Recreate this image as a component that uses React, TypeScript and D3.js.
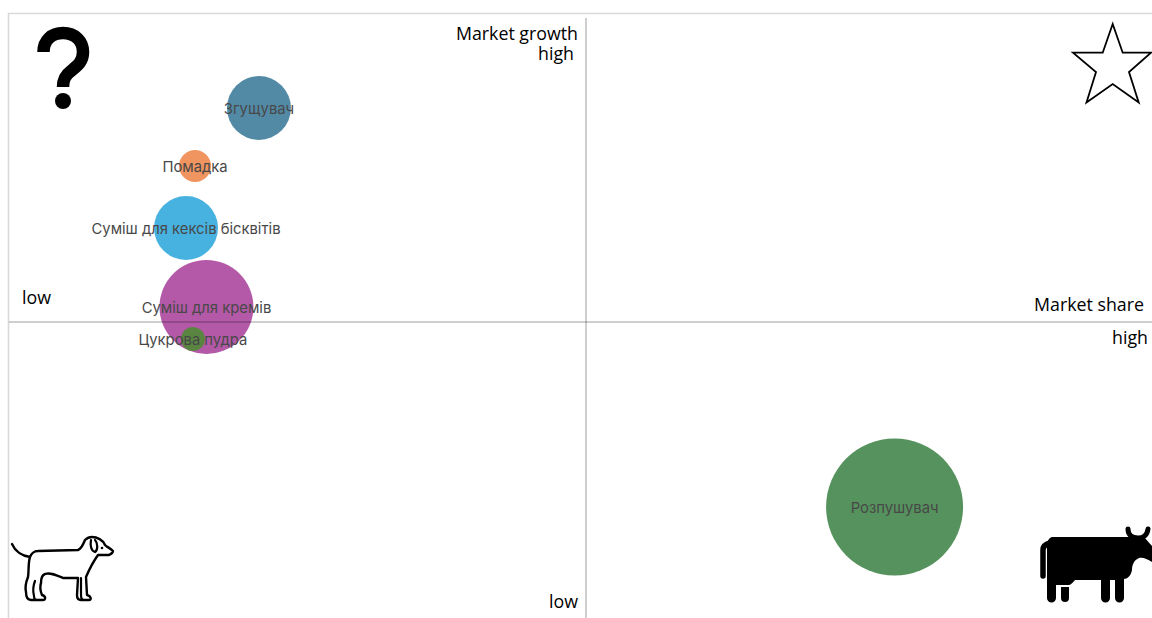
import React from "react";
import * as d3 from "d3";

// BCG matrix: product portfolio by relative market share and market growth.
const products = ["Згущувач", "Помадка", "Суміш для кексів бісквітів", "Суміш для кремів", "Цукрова пудра", "Розпушувач"];
const marketShare = [0.2166, 0.1612, 0.1534, 0.1711, 0.1594, 0.7674];
const marketGrowth = [0.8474, 0.7532, 0.6526, 0.5244, 0.4724, 0.1997];
const salesVolume = [21.8, 5.46, 21.8, 47, 3.07, 100];
const bubbleColors = ["#3f7d9c", "#ee8a4e", "#33aadd", "#ab479d", "#4f8a36", "#44864b"];

const WIDTH = 1152;
const HEIGHT = 618;
const FONT = "Inter, 'Noto Sans', sans-serif";
const CAPTION_FONT = "'Open Sans', 'Noto Sans', sans-serif";

const x = d3.scaleLinear().domain([0, 1]).range([9, 1163]);
const y = d3.scaleLinear().domain([0, 1]).range([630, 14]);
const r = d3.scaleSqrt().domain([0, 100]).range([0, 68.5]);

const captions = [
  { text: "Market growth", px: 578, py: 40, anchor: "end" },
  { text: "high", px: 574, py: 60, anchor: "end" },
  { text: "low", px: 22, py: 304, anchor: "start" },
  { text: "Market share", px: 1144, py: 311, anchor: "end" },
  { text: "high", px: 1148, py: 344, anchor: "end" },
  { text: "low", px: 578, py: 608, anchor: "end" },
];

const starPoints: [number, number][] = [
  [1112.7, 24], [1122.7, 52.7], [1151, 52.7], [1129, 72], [1138.7, 102.5],
  [1112.7, 84], [1086.5, 102.5], [1096, 72], [1073, 52.7], [1102.7, 52.7],
];
const starPath = d3.line().curve(d3.curveLinearClosed)(starPoints) as string;

const dogPath =
  "M12 544 C15 551 22 556 30 557 C28 563 29 571 28 577 C26 582 25 588 26 592 C26 597 27 600 31 600 L43 600 C46 600 46 596 42 595 C40 590 40 586 41 583 C41 578 42 575 45 574 C50 572 56 575 63 578 L78 578 L77 595 C77 598 78 600 81 600 L89 600 C92 600 91 596 87 595 L86 577 C89 570 93 562 98 555 L109 555 C111 554 113 553 113 551 C110 548 107 547 105 545 C103 540 97 537 92 537 C89 537 87 538 85 540 C83 545 81 549 78 550 L38 551 C34 551 31 554 30 557";

const dogInnerPath =
  "M35 581 C33 586 33 592 34 596 C34 599 35 600 37 600 M81 578 L81 595 C81 598 82 600 84 600 M91 540 C90 545 91 551 95 552 C98 550 98 543 95 540";

const cowBodyPath =
  "M1052 537 L1144 537 L1152 546 L1152 562 C1147 559 1143 557 1139 558 C1134 560 1132 565 1132 570 C1131 576 1127 579 1124 579 L1124 598 A4.5 4.5 0 0 1 1115 598 L1115 580 L1110 580 L1110 598 A4.5 4.5 0 0 1 1101 598 L1101 580 L1075 580 C1073 582 1071 585 1069 585 L1056 585 L1056 598 A4.5 4.5 0 0 1 1047 598 L1047 545 C1047 541 1049 538 1052 537 Z M1061 587 L1069 587 L1069 598 A4 4 0 0 1 1061 598 Z";

const cowTailPath = "M1050 543 C1046 544 1043 546 1043 550 L1043 576";
const cowHornsPath = "M1128 529 C1128 536 1133 538 1138 538 C1143 538 1147 536 1148 529";

const questionPath = "M43.5 52 C43.5 40 52 33 63 33 C75 33 83 41 83 52 C83 62 77 66 71 71 C65.5 75 63 79 63 87";

export default function App() {
  return (
    <svg
      width={WIDTH}
      height={HEIGHT}
      viewBox={`0 0 ${WIDTH} ${HEIGHT}`}
      style={{ position: "fixed", left: 0, top: 0, background: "#fff" }}
    >
      {/* outer frame, open on the right and at the bottom */}
      <path d={`M8.5 ${HEIGHT} V13.5 H${WIDTH}`} fill="none" stroke="#d9d9d9" strokeWidth={1.6} />

      {products.map((name, i) => (
        <circle
          key={name}
          cx={x(marketShare[i])}
          cy={y(marketGrowth[i])}
          r={r(salesVolume[i])}
          fill={bubbleColors[i]}
          fillOpacity={0.9}
        />
      ))}

      {/* translucent dividers stay visible where they cross a bubble */}
      <line x1={x(0.5)} x2={x(0.5)} y1={18} y2={HEIGHT} stroke="#000" strokeOpacity={0.25} strokeWidth={1.5} />
      <line x1={9} x2={WIDTH} y1={y(0.5)} y2={y(0.5)} stroke="#000" strokeOpacity={0.25} strokeWidth={1.5} />

      {products.map((name, i) => (
        <text
          key={name}
          x={x(marketShare[i])}
          y={y(marketGrowth[i])}
          dy="0.42em"
          textAnchor="middle"
          fontFamily={FONT}
          fontSize={14.8}
          fill="#484848"
        >
          {name}
        </text>
      ))}

      {captions.map((c, i) => (
        <text
          key={i}
          x={c.px}
          y={c.py}
          textAnchor={c.anchor}
          fontFamily={CAPTION_FONT}
          fontSize={17.8}
          fill="#000"
        >
          {c.text}
        </text>
      ))}

      {/* question-mark quadrant */}
      <path d={questionPath} fill="none" stroke="#000" strokeWidth={12.5} />
      <circle cx={63} cy={101} r={8} fill="#000" />

      {/* star quadrant */}
      <path d={starPath} fill="#fff" stroke="#000" strokeWidth={1.8} strokeLinejoin="miter" />

      {/* dog quadrant */}
      <path d={dogPath} fill="none" stroke="#000" strokeWidth={2.4} strokeLinejoin="round" strokeLinecap="round" />
      <path d={dogInnerPath} fill="none" stroke="#000" strokeWidth={2.2} strokeLinecap="round" />
      <circle cx={102} cy={548} r={1.3} fill="#000" />

      {/* cash cow quadrant */}
      <path d={cowBodyPath} fill="#000" />
      <path d={cowTailPath} fill="none" stroke="#000" strokeWidth={5.5} strokeLinecap="round" />
      <path d={cowHornsPath} fill="none" stroke="#000" strokeWidth={5} strokeLinecap="round" />
    </svg>
  );
}
